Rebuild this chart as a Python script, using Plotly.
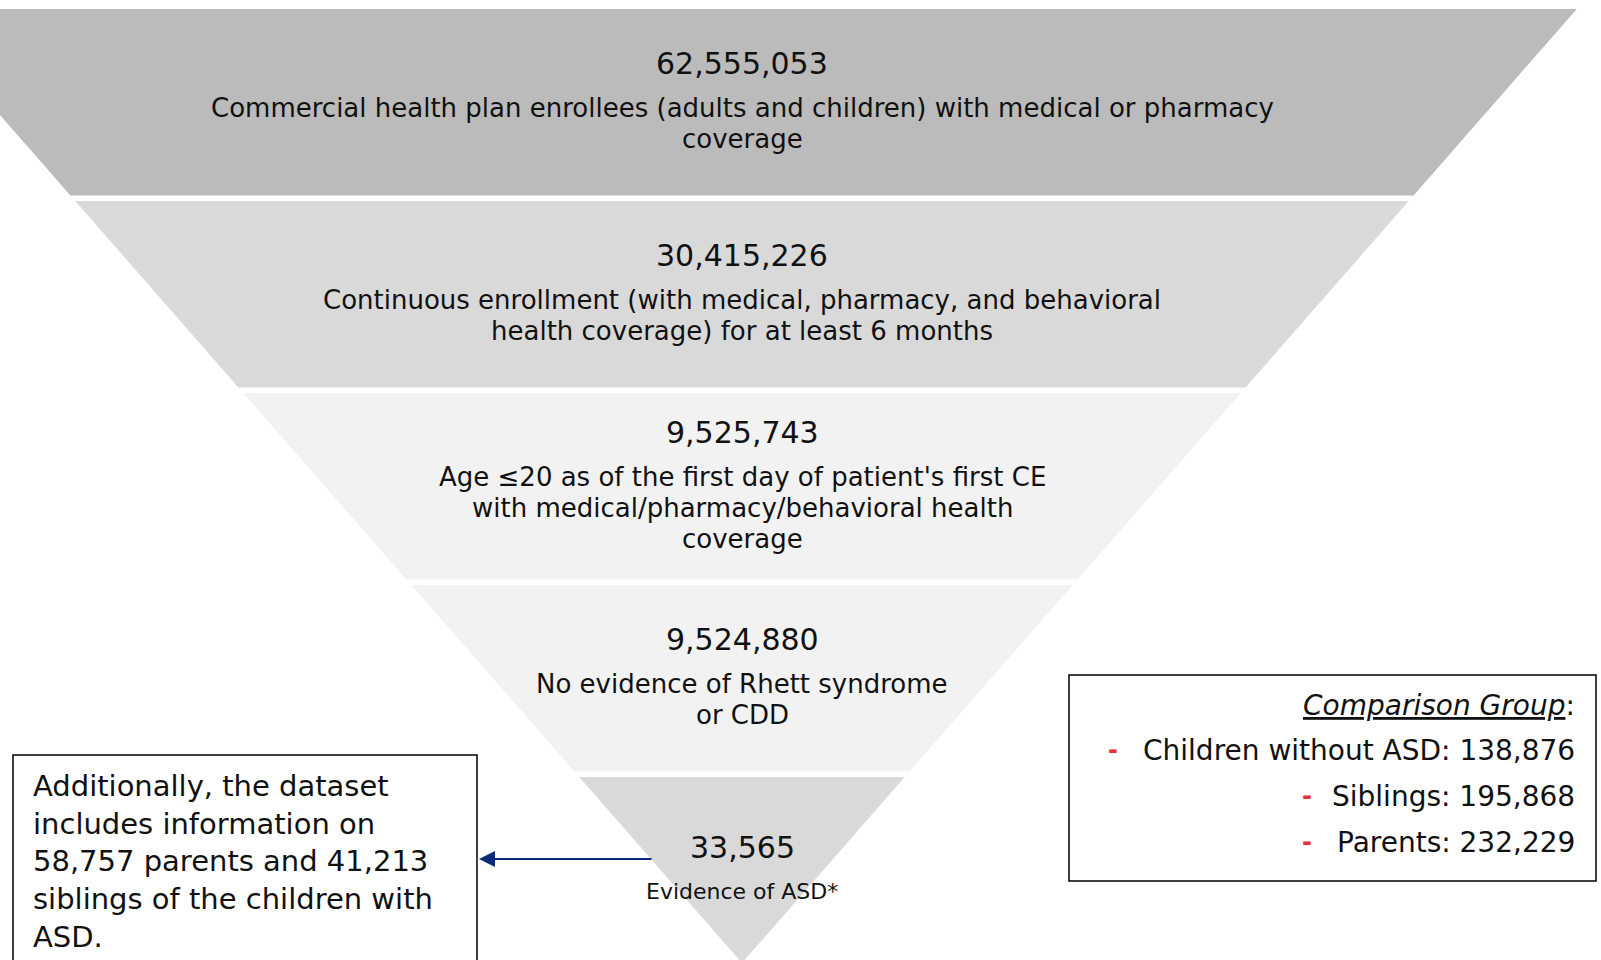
import plotly.graph_objects as go

# Cohort funnel: counts and descriptions per step
stage_counts = [62555053, 30415226, 9525743, 9524880, 33565]
stage_labels = [
    ["Commercial health plan enrollees (adults and children) with medical or pharmacy", "coverage"],
    ["Continuous enrollment (with medical, pharmacy, and behavioral", "health coverage) for at least 6 months"],
    ["Age \u226420 as of the first day of patient's first CE", "with medical/pharmacy/behavioral health", "coverage"],
    ["No evidence of Rhett syndrome", "or CDD"],
    ["Evidence of ASD*"],
]
stage_colors = ["#BBBBBB", "#D9D9D9", "#F2F2F2", "#F2F2F2", "#D9D9D9"]

# Comparison group and family members
comparison_groups = ["Children without ASD", "Siblings", "Parents"]
comparison_counts = [138876, 195868, 232229]
family_parents = 58757
family_siblings = 41213

FONT = "DejaVu Sans"
W, H = 1601, 960

# funnel geometry (pixel space)
apex_x, apex_y = 742, 963
slope = 0.875
top_y, band_h, gap = 9, 186.5, 5.5
line_h = 31


def edge(y):
    half = slope * (apex_y - y)
    return apex_x - half, apex_x + half


fig = go.Figure()

for i, (count, lines, color) in enumerate(zip(stage_counts, stage_labels, stage_colors)):
    y0 = top_y + i * (band_h + gap)
    y1 = min(y0 + band_h, apex_y)
    l0, r0 = edge(y0)
    l1, r1 = edge(y1)
    fig.add_trace(go.Scatter(
        x=[l0, r0, r1, l1, l0], y=[y0, y0, y1, y1, y0],
        mode="lines", fill="toself", fillcolor=color,
        line=dict(width=0), hoverinfo="skip", showlegend=False,
    ))

    last = i == len(stage_counts) - 1
    n = len(lines)
    lab_c = y0 + 114.5
    size = 22 if last else 26
    for j, txt in enumerate(lines):
        fig.add_annotation(x=apex_x, y=lab_c + (j - (n - 1) / 2) * line_h, text=txt,
                           showarrow=False, font=dict(family=FONT, size=size, color="#111111"))
    num_y = lab_c - n * line_h / 2 - 29
    fig.add_annotation(x=apex_x, y=num_y, text=f"{count:,}", showarrow=False,
                       font=dict(family=FONT, size=30, color="#111111"))

# left note box with arrow
fig.add_shape(type="rect", x0=13, x1=477, y0=755, y1=980,
              line=dict(color="#000000", width=1.5), fillcolor="rgba(0,0,0,0)")
note = (f"Additionally, the dataset<br>includes information on<br>"
        f"{family_parents:,} parents and {family_siblings:,}<br>"
        f"siblings of the children with<br>ASD.")
fig.add_annotation(x=31, y=861, text=note, showarrow=False, xanchor="left",
                   align="left", font=dict(family=FONT, size=29, color="#111111"))
fig.add_annotation(x=479, y=859, ax=653, ay=859, axref="x", ayref="y",
                   text="", showarrow=True, arrowhead=2, arrowsize=1.6,
                   arrowwidth=2, arrowcolor="#0B2A78")

# comparison group box
fig.add_shape(type="rect", x0=1069, x1=1596, y0=675, y1=881,
              line=dict(color="#000000", width=1.5), fillcolor="rgba(0,0,0,0)")
fig.add_annotation(x=1577, y=705, text="<i><u>Comparison Group</u></i>:",
                   showarrow=False, xanchor="right",
                   font=dict(family=FONT, size=28, color="#111111"))
row_y = [750, 796, 842]
dash_x = [1113, 1307, 1307]
for name, cnt, yy, dx in zip(comparison_groups, comparison_counts, row_y, dash_x):
    fig.add_annotation(x=1577, y=yy, text=f"{name}: {cnt:,}", showarrow=False,
                       xanchor="right", font=dict(family=FONT, size=28, color="#111111"))
    fig.add_annotation(x=dx, y=yy, text="<b>-</b>", showarrow=False,
                       font=dict(family=FONT, size=24, color="#E8303A"))

fig.update_layout(
    width=W, height=H,
    margin=dict(l=0, r=0, t=0, b=0),
    paper_bgcolor="white", plot_bgcolor="white",
    xaxis=dict(range=[0, W], visible=False, fixedrange=True),
    yaxis=dict(range=[H, 0], visible=False, fixedrange=True),
    showlegend=False,
)

fig.write_html("out.html", config={"displayModeBar": False},
               post_script="document.body.style.margin='0';")
